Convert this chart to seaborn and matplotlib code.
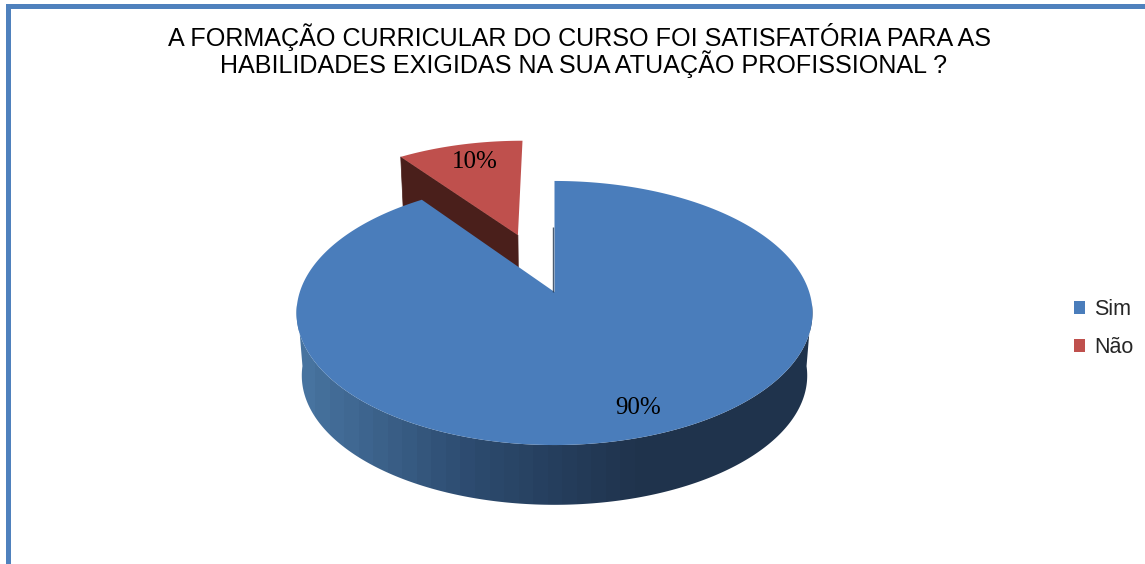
# pizza 3D com perspectiva, desenhada com poligonos a partir dos valores
import numpy as np
import seaborn as sns
import matplotlib.pyplot as plt
from matplotlib.colors import ListedColormap
from matplotlib.patches import Polygon, Patch, Rectangle

titulo = ['A FORMAÇÃO CURRICULAR DO CURSO FOI SATISFATÓRIA PARA AS',
          'HABILIDADES EXIGIDAS NA SUA ATUAÇÃO PROFISSIONAL ?']
categorias = ['Sim', 'Não']
valores = [90, 10]
rotulos = ['90%', '10%']

sns.set_style('white')
plt.rcParams['font.family'] = ['Liberation Sans', 'DejaVu Sans']

cores = sns.color_palette(['#4A7DBB', '#BF504D'])
cor_lado_verm = '#4A1F1B'
gradiente = ListedColormap(sns.blend_palette(['#47739F', '#2C4A6E', '#1F334C'], 24))
cor_borda = '#4F81BD'

fig, ax = plt.subplots(figsize=(11.45, 5.64), dpi=100)
ax.set_position([0, 0, 1, 1])

K = 0.159


def projeta(X, Y, nivel=0):
    # nivel 0 = face de cima, nivel 1 = base
    w = 1 + K * Y
    if nivel == 0:
        return 554.5 + 254.7 * X / w, 292 - 128.7 * Y / w
    return 554.5 + 249.5 * X / w, 355 - 126.0 * Y / w


def arco(ini, fim, n=200):
    t = np.radians(np.linspace(ini, fim, n))
    return np.sin(t), np.cos(t)


angulo = np.cumsum([0] + valores) * 360 / sum(valores)

# fatia vermelha (destacada)
meio = np.radians((angulo[1] + angulo[2]) / 2)
dx, dy = 0.5 * np.sin(meio), 0.5 * np.cos(meio)
r = 0.97
Xa, Ya = r * np.sin(np.radians(angulo[1])), r * np.cos(np.radians(angulo[1]))
p = [projeta(dx, dy), projeta(Xa + dx, Ya + dy), projeta(Xa + dx, Ya + dy, 1), projeta(dx, dy, 1)]
ax.add_patch(Polygon(p, closed=True, fc=cor_lado_verm, ec=cor_lado_verm, lw=0.5))
X, Y = arco(angulo[1], angulo[2])
xs, ys = projeta(r * X + dx, r * Y + dy)
xt, yt = projeta(dx, dy)
ax.add_patch(Polygon(np.column_stack([np.r_[xt, xs], np.r_[yt, ys]]), closed=True, fc=cores[1], ec='none'))

# lateral da fatia azul (so a parte da frente, com degrade)
X, Y = arco(95, 265, 300)
x0, y0 = projeta(X, Y)
x1, y1 = projeta(X, Y, 1)
lado = Polygon(np.column_stack([np.r_[x0, x1[::-1]], np.r_[y0, y1[::-1]]]), closed=True,
               transform=ax.transData, fc='none', ec='none')
ax.add_patch(lado)
im = ax.imshow(np.linspace(0, 1, 350)[None, :], extent=(300, 650, 520, 300), cmap=gradiente,
               aspect='auto', zorder=1)
im.set_clip_path(lado)
# o que fica fora do degrade: cores das pontas
for faixa, cor in [((250, 300), gradiente(0.0)), ((650, 830), gradiente(1.0))]:
    ret = Rectangle((faixa[0], 300), faixa[1] - faixa[0], 220, fc=cor, ec='none', zorder=1)
    ax.add_patch(ret)
    ret.set_clip_path(lado)

# face de cima da fatia azul
X, Y = arco(angulo[0], angulo[1], 400)
x0, y0 = projeta(X, Y)
xt, yt = projeta(0, 0)
ax.add_patch(Polygon(np.column_stack([np.r_[xt, x0], np.r_[yt, y0]]), closed=True, fc=cores[0], ec='none', zorder=2))
xe, ye = projeta(0, 0.55)
ax.plot([xt - 1.5, xe - 1.5], [yt, ye], color='#1F334C', lw=1, alpha=0.8, solid_capstyle='butt', zorder=3)

# rotulos de porcentagem
ax.text(638, 408, rotulos[0], family='Liberation Serif', fontsize=18, color='black', ha='center', va='center', zorder=4)
ax.text(475, 162, rotulos[1], family='Liberation Serif', fontsize=18, color='black', ha='center', va='center', zorder=4)

# titulo
ax.text(580, 37, titulo[0], fontsize=18.05, color='black', ha='center', va='center')
ax.text(583, 64, titulo[1], fontsize=18.05, color='black', ha='center', va='center')

ax.set_xlim(0, 1145)
ax.set_ylim(564, 0)
ax.axis('off')

# legenda
handles = [Patch(fc=c, ec='none') for c in cores]
leg = ax.legend(handles, categorias, loc='center left', bbox_to_anchor=(1074 / 1145, 1 - 328.5 / 564),
                frameon=False, fontsize=15.5, handlelength=0.53, handleheight=0.53,
                handletextpad=0.4, labelspacing=0.77, borderpad=0, borderaxespad=0)

# moldura (so em cima e a esquerda)
ax.add_patch(Rectangle((6, 4), 1139, 4.5, fc=cor_borda, ec='none'))
ax.add_patch(Rectangle((6, 4), 5, 560, fc=cor_borda, ec='none'))

fig.savefig('out.png', dpi=100)
